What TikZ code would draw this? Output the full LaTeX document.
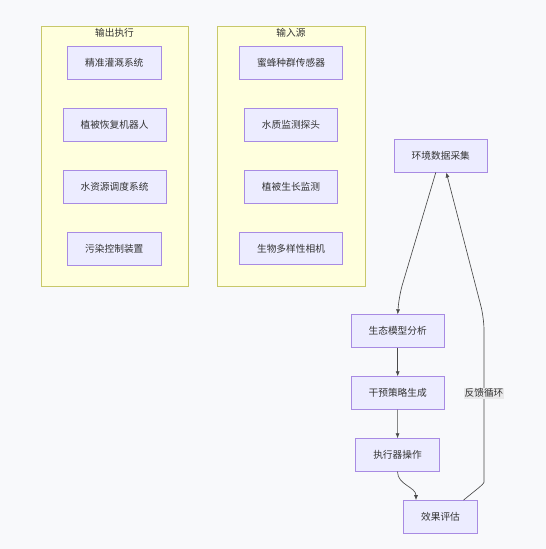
\documentclass[tikz,border=0pt]{standalone}
\usepackage{fontspec}
\setmainfont{Noto Sans CJK SC}
\usetikzlibrary{arrows.meta}
\definecolor{bgcol}{HTML}{F8F9FB}
\definecolor{groupfill}{HTML}{FFFFDE}
\definecolor{groupline}{HTML}{C8C86A}
\definecolor{nodefill}{HTML}{ECECFF}
\definecolor{nodeline}{HTML}{A88BE3}
\definecolor{edgecol}{HTML}{4A4A4A}
\definecolor{txtcol}{HTML}{333333}
\definecolor{labelbg}{HTML}{E9E9EA}

\begin{document}
\begin{tikzpicture}[
	x=1pt,y=-1pt,
	box/.style={draw=nodeline,fill=nodefill,line width=0.8pt,inner xsep=17.5pt,inner ysep=0pt,minimum height=32.5pt,text=txtcol,font=\fontsize{9.7pt}{11pt}\selectfont},
	group/.style={draw=groupline,fill=groupfill,line width=0.9pt},
	title/.style={text=txtcol,inner sep=1pt,font=\fontsize{9.7pt}{11pt}\selectfont},
	flow/.style={draw=edgecol,line width=0.65pt,-{Latex[length=5pt,width=4pt]}}
]

	\fill[bgcol] (0,0) rectangle (546,549);
	\useasboundingbox (0,0) rectangle (546,549);

	\draw[group] (41,26) rectangle (188,286);
	\node[title] at (114.5,33) (outT) {输出执行};
	\node[box] at (114.3,63) (irr) {精准灌溉系统};
	\node[box] at (114.5,125) (robot) {植被恢复机器人};
	\node[box] at (114.5,186.7) (water) {水资源调度系统};
	\node[box] at (114.3,248.7) (poll) {污染控制装置};

	\draw[group] (217,26) rectangle (365,286);
	\node[title] at (291,33) (inT) {输入源};
	\node[box] at (291,63) (bee) {蜜蜂种群传感器};
	\node[box] at (291,125) (probe) {水质监测探头};
	\node[box] at (291,187) (veg) {植被生长监测};
	\node[box] at (291,248.5) (cam) {生物多样性相机};

	\node[box] at (440.8,155.8) (env) {环境数据采集};
	\node[box] at (397.7,331) (eco) {生态模型分析};
	\node[box] at (397.7,393) (plan) {干预策略生成};
	\node[box] at (397.5,455) (act) {执行器操作};
	\node[box] at (440.5,516.8) (eval) {效果评估};

	\draw[flow,rounded corners=12pt] ([xshift=-5pt]env.south) -- (399,296) -- (eco.north);
	\draw[flow] (eco) -- (plan);
	\draw[flow] (plan) -- (act);
	\draw[flow] (act.south) to[out=-90,in=90] ([xshift=-24.5pt]eval.north);
	\draw[flow,rounded corners=12pt] ([xshift=23pt]eval.north) to[out=40,in=-90] (484,470) -- (484,318) -- ([xshift=5.5pt]env.south);
	\node[title,fill=labelbg] at (484,393) (loop) {反馈循环};

\end{tikzpicture}
\end{document}
